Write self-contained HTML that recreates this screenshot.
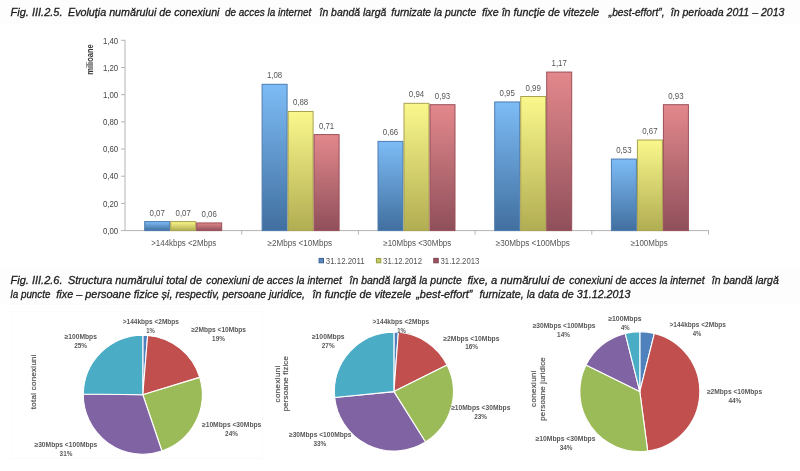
<!DOCTYPE html>
<html lang="ro">
<head>
<meta charset="utf-8">
<title>Fig. III.2.5 / III.2.6</title>
<style>
html,body{margin:0;padding:0;background:#fff;}
body{width:800px;height:471px;overflow:hidden;font-family:"Liberation Sans", sans-serif;}
svg{display:block;font-family:"Liberation Sans", sans-serif;}
</style>
</head>
<body>
<svg width="800" height="471" viewBox="0 0 800 471">
<defs>
<linearGradient id="gb" x1="0" y1="0" x2="0" y2="1"><stop offset="0" stop-color="#7dbcf6"/><stop offset="1" stop-color="#416f9f"/></linearGradient>
<linearGradient id="gy" x1="0" y1="0" x2="0" y2="1"><stop offset="0" stop-color="#faf88c"/><stop offset="1" stop-color="#b1ad52"/></linearGradient>
<linearGradient id="gr" x1="0" y1="0" x2="0" y2="1"><stop offset="0" stop-color="#e3888c"/><stop offset="1" stop-color="#8f4f5a"/></linearGradient>
<filter id="soft" x="0" y="0" width="800" height="471" filterUnits="userSpaceOnUse"><feGaussianBlur stdDeviation="0.6"/></filter>
</defs>
<rect width="800" height="471" fill="#fff"/>
<g filter="url(#soft)">
<rect x="0" y="0" width="800" height="24" fill="#fdfdfd"/>
<rect x="0" y="269" width="800" height="36" fill="#fdfdfd"/>
<text x="10.50" y="15.90" font-size="11" text-anchor="start" fill="#1c1c1c" font-style="italic" textLength="52.00" lengthAdjust="spacingAndGlyphs" stroke="#1c1c1c" stroke-width="0.3">Fig. III.2.5.</text>
<text x="68.00" y="15.90" font-size="11" text-anchor="start" fill="#1c1c1c" font-style="italic" textLength="151.50" lengthAdjust="spacingAndGlyphs" stroke="#1c1c1c" stroke-width="0.3">Evoluţia numărului de conexiuni</text>
<text x="225.00" y="15.90" font-size="11" text-anchor="start" fill="#1c1c1c" font-style="italic" textLength="86.25" lengthAdjust="spacingAndGlyphs" stroke="#1c1c1c" stroke-width="0.3">de acces la internet</text>
<text x="319.50" y="15.90" font-size="11" text-anchor="start" fill="#1c1c1c" font-style="italic" textLength="66.75" lengthAdjust="spacingAndGlyphs" stroke="#1c1c1c" stroke-width="0.3">în bandă largă</text>
<text x="391.25" y="15.90" font-size="11" text-anchor="start" fill="#1c1c1c" font-style="italic" textLength="85.00" lengthAdjust="spacingAndGlyphs" stroke="#1c1c1c" stroke-width="0.3">furnizate la puncte</text>
<text x="482.00" y="15.90" font-size="11" text-anchor="start" fill="#1c1c1c" font-style="italic" textLength="117.25" lengthAdjust="spacingAndGlyphs" stroke="#1c1c1c" stroke-width="0.3">fixe în funcţie de vitezele</text>
<text x="608.75" y="15.90" font-size="11" text-anchor="start" fill="#1c1c1c" font-style="italic" textLength="55.75" lengthAdjust="spacingAndGlyphs" stroke="#1c1c1c" stroke-width="0.3">„best-effort”,</text>
<text x="670.75" y="15.90" font-size="11" text-anchor="start" fill="#1c1c1c" font-style="italic" textLength="113.75" lengthAdjust="spacingAndGlyphs" stroke="#1c1c1c" stroke-width="0.3">în perioada 2011 – 2013</text>
<text x="10.50" y="284.20" font-size="11" text-anchor="start" fill="#1c1c1c" font-style="italic" textLength="52.00" lengthAdjust="spacingAndGlyphs" stroke="#1c1c1c" stroke-width="0.3">Fig. III.2.6.</text>
<text x="68.00" y="284.20" font-size="11" text-anchor="start" fill="#1c1c1c" font-style="italic" textLength="134.00" lengthAdjust="spacingAndGlyphs" stroke="#1c1c1c" stroke-width="0.3">Structura numărului total de</text>
<text x="206.25" y="284.20" font-size="11" text-anchor="start" fill="#1c1c1c" font-style="italic" textLength="135.50" lengthAdjust="spacingAndGlyphs" stroke="#1c1c1c" stroke-width="0.3">conexiuni de acces la internet</text>
<text x="349.50" y="284.20" font-size="11" text-anchor="start" fill="#1c1c1c" font-style="italic" textLength="112.25" lengthAdjust="spacingAndGlyphs" stroke="#1c1c1c" stroke-width="0.3">în bandă largă la puncte</text>
<text x="467.50" y="284.20" font-size="11" text-anchor="start" fill="#1c1c1c" font-style="italic" textLength="97.50" lengthAdjust="spacingAndGlyphs" stroke="#1c1c1c" stroke-width="0.3">fixe, a numărului de</text>
<text x="569.25" y="284.20" font-size="11" text-anchor="start" fill="#1c1c1c" font-style="italic" textLength="135.25" lengthAdjust="spacingAndGlyphs" stroke="#1c1c1c" stroke-width="0.3">conexiuni de acces la internet</text>
<text x="711.75" y="284.20" font-size="11" text-anchor="start" fill="#1c1c1c" font-style="italic" textLength="67.00" lengthAdjust="spacingAndGlyphs" stroke="#1c1c1c" stroke-width="0.3">în bandă largă</text>
<text x="10.50" y="298.00" font-size="11" text-anchor="start" fill="#1c1c1c" font-style="italic" textLength="40.00" lengthAdjust="spacingAndGlyphs" stroke="#1c1c1c" stroke-width="0.3">la puncte</text>
<text x="56.25" y="298.00" font-size="11" text-anchor="start" fill="#1c1c1c" font-style="italic" textLength="116.25" lengthAdjust="spacingAndGlyphs" stroke="#1c1c1c" stroke-width="0.3">fixe – persoane fizice și,</text>
<text x="175.50" y="298.00" font-size="11" text-anchor="start" fill="#1c1c1c" font-style="italic" textLength="129.50" lengthAdjust="spacingAndGlyphs" stroke="#1c1c1c" stroke-width="0.3">respectiv, persoane juridice,</text>
<text x="312.50" y="298.00" font-size="11" text-anchor="start" fill="#1c1c1c" font-style="italic" textLength="98.75" lengthAdjust="spacingAndGlyphs" stroke="#1c1c1c" stroke-width="0.3">în funcție de vitezele</text>
<text x="416.25" y="298.00" font-size="11" text-anchor="start" fill="#1c1c1c" font-style="italic" textLength="56.25" lengthAdjust="spacingAndGlyphs" stroke="#1c1c1c" stroke-width="0.3">„best-effort”</text>
<text x="479.50" y="298.00" font-size="11" text-anchor="start" fill="#1c1c1c" font-style="italic" textLength="151.00" lengthAdjust="spacingAndGlyphs" stroke="#1c1c1c" stroke-width="0.3">furnizate, la data de 31.12.2013</text>
<path d="M125.0 39.8 V230.6 H709.0" fill="none" stroke="#b4b4b4" stroke-width="1"/>
<path d="M121.0 230.60 H125.0" stroke="#b4b4b4" stroke-width="1"/>
<text x="118.20" y="233.80" font-size="8.3" text-anchor="end" fill="#444" textLength="15.30" lengthAdjust="spacingAndGlyphs" >0,00</text>
<path d="M121.0 203.41 H125.0" stroke="#b4b4b4" stroke-width="1"/>
<text x="118.20" y="206.61" font-size="8.3" text-anchor="end" fill="#444" textLength="15.30" lengthAdjust="spacingAndGlyphs" >0,20</text>
<path d="M121.0 176.23 H125.0" stroke="#b4b4b4" stroke-width="1"/>
<text x="118.20" y="179.43" font-size="8.3" text-anchor="end" fill="#444" textLength="15.30" lengthAdjust="spacingAndGlyphs" >0,40</text>
<path d="M121.0 149.04 H125.0" stroke="#b4b4b4" stroke-width="1"/>
<text x="118.20" y="152.24" font-size="8.3" text-anchor="end" fill="#444" textLength="15.30" lengthAdjust="spacingAndGlyphs" >0,60</text>
<path d="M121.0 121.86 H125.0" stroke="#b4b4b4" stroke-width="1"/>
<text x="118.20" y="125.06" font-size="8.3" text-anchor="end" fill="#444" textLength="15.30" lengthAdjust="spacingAndGlyphs" >0,80</text>
<path d="M121.0 94.67 H125.0" stroke="#b4b4b4" stroke-width="1"/>
<text x="118.20" y="97.87" font-size="8.3" text-anchor="end" fill="#444" textLength="15.30" lengthAdjust="spacingAndGlyphs" >1,00</text>
<path d="M121.0 67.49 H125.0" stroke="#b4b4b4" stroke-width="1"/>
<text x="118.20" y="70.69" font-size="8.3" text-anchor="end" fill="#444" textLength="15.30" lengthAdjust="spacingAndGlyphs" >1,20</text>
<path d="M121.0 40.30 H125.0" stroke="#b4b4b4" stroke-width="1"/>
<text x="118.20" y="43.50" font-size="8.3" text-anchor="end" fill="#444" textLength="15.30" lengthAdjust="spacingAndGlyphs" >1,40</text>
<path d="M241.70 230.6 v4" stroke="#b4b4b4" stroke-width="1"/>
<path d="M358.40 230.6 v4" stroke="#b4b4b4" stroke-width="1"/>
<path d="M475.10 230.6 v4" stroke="#b4b4b4" stroke-width="1"/>
<path d="M591.80 230.6 v4" stroke="#b4b4b4" stroke-width="1"/>
<path d="M708.50 230.6 v4" stroke="#b4b4b4" stroke-width="1"/>
<text transform="translate(93.2,59.5) rotate(-90)" font-size="8.3" font-weight="bold" text-anchor="middle" fill="#333" textLength="30.5" lengthAdjust="spacingAndGlyphs">milioane</text>
<text x="183.75" y="245.50" font-size="8.3" text-anchor="middle" fill="#555" textLength="65.00" lengthAdjust="spacingAndGlyphs" >&gt;144kbps &lt;2Mbps</text>
<rect x="144.70" y="221.58" width="25.00" height="9.02" fill="url(#gb)" stroke="#4d7cb0" stroke-width="1"/>
<text x="157.20" y="215.58" font-size="8.3" text-anchor="middle" fill="#555" textLength="15.30" lengthAdjust="spacingAndGlyphs" >0,07</text>
<rect x="170.70" y="221.58" width="25.00" height="9.02" fill="url(#gy)" stroke="#a8a24e" stroke-width="1"/>
<text x="183.20" y="215.58" font-size="8.3" text-anchor="middle" fill="#555" textLength="15.30" lengthAdjust="spacingAndGlyphs" >0,07</text>
<rect x="196.70" y="222.94" width="25.00" height="7.66" fill="url(#gr)" stroke="#9c4f58" stroke-width="1"/>
<text x="209.20" y="216.94" font-size="8.3" text-anchor="middle" fill="#555" textLength="15.30" lengthAdjust="spacingAndGlyphs" >0,06</text>
<text x="299.75" y="245.50" font-size="8.3" text-anchor="middle" fill="#555" textLength="64.50" lengthAdjust="spacingAndGlyphs" >≥2Mbps &lt;10Mbps</text>
<rect x="262.10" y="84.30" width="25.00" height="146.30" fill="url(#gb)" stroke="#4d7cb0" stroke-width="1"/>
<text x="274.60" y="78.30" font-size="8.3" text-anchor="middle" fill="#555" textLength="15.30" lengthAdjust="spacingAndGlyphs" >1,08</text>
<rect x="288.10" y="111.48" width="25.00" height="119.12" fill="url(#gy)" stroke="#a8a24e" stroke-width="1"/>
<text x="300.60" y="105.48" font-size="8.3" text-anchor="middle" fill="#555" textLength="15.30" lengthAdjust="spacingAndGlyphs" >0,88</text>
<rect x="314.10" y="134.59" width="25.00" height="96.01" fill="url(#gr)" stroke="#9c4f58" stroke-width="1"/>
<text x="326.60" y="128.59" font-size="8.3" text-anchor="middle" fill="#555" textLength="15.30" lengthAdjust="spacingAndGlyphs" >0,71</text>
<text x="417.25" y="245.50" font-size="8.3" text-anchor="middle" fill="#555" textLength="68.00" lengthAdjust="spacingAndGlyphs" >≥10Mbps &lt;30Mbps</text>
<rect x="378.00" y="141.39" width="25.00" height="89.21" fill="url(#gb)" stroke="#4d7cb0" stroke-width="1"/>
<text x="390.50" y="135.39" font-size="8.3" text-anchor="middle" fill="#555" textLength="15.30" lengthAdjust="spacingAndGlyphs" >0,66</text>
<rect x="404.00" y="103.33" width="25.00" height="127.27" fill="url(#gy)" stroke="#a8a24e" stroke-width="1"/>
<text x="416.50" y="97.33" font-size="8.3" text-anchor="middle" fill="#555" textLength="15.30" lengthAdjust="spacingAndGlyphs" >0,94</text>
<rect x="430.00" y="104.69" width="25.00" height="125.91" fill="url(#gr)" stroke="#9c4f58" stroke-width="1"/>
<text x="442.50" y="98.69" font-size="8.3" text-anchor="middle" fill="#555" textLength="15.30" lengthAdjust="spacingAndGlyphs" >0,93</text>
<text x="532.80" y="245.50" font-size="8.3" text-anchor="middle" fill="#555" textLength="74.00" lengthAdjust="spacingAndGlyphs" >≥30Mbps &lt;100Mbps</text>
<rect x="494.70" y="101.97" width="25.00" height="128.63" fill="url(#gb)" stroke="#4d7cb0" stroke-width="1"/>
<text x="507.20" y="95.97" font-size="8.3" text-anchor="middle" fill="#555" textLength="15.30" lengthAdjust="spacingAndGlyphs" >0,95</text>
<rect x="520.70" y="96.53" width="25.00" height="134.07" fill="url(#gy)" stroke="#a8a24e" stroke-width="1"/>
<text x="533.20" y="90.53" font-size="8.3" text-anchor="middle" fill="#555" textLength="15.30" lengthAdjust="spacingAndGlyphs" >0,99</text>
<rect x="546.70" y="72.06" width="25.00" height="158.54" fill="url(#gr)" stroke="#9c4f58" stroke-width="1"/>
<text x="559.20" y="66.06" font-size="8.3" text-anchor="middle" fill="#555" textLength="15.30" lengthAdjust="spacingAndGlyphs" >1,17</text>
<text x="649.20" y="245.50" font-size="8.3" text-anchor="middle" fill="#555" textLength="37.00" lengthAdjust="spacingAndGlyphs" >≥100Mbps</text>
<rect x="611.40" y="159.06" width="25.00" height="71.54" fill="url(#gb)" stroke="#4d7cb0" stroke-width="1"/>
<text x="623.90" y="153.06" font-size="8.3" text-anchor="middle" fill="#555" textLength="15.30" lengthAdjust="spacingAndGlyphs" >0,53</text>
<rect x="637.40" y="140.03" width="25.00" height="90.57" fill="url(#gy)" stroke="#a8a24e" stroke-width="1"/>
<text x="649.90" y="134.03" font-size="8.3" text-anchor="middle" fill="#555" textLength="15.30" lengthAdjust="spacingAndGlyphs" >0,67</text>
<rect x="663.40" y="104.69" width="25.00" height="125.91" fill="url(#gr)" stroke="#9c4f58" stroke-width="1"/>
<text x="675.90" y="98.69" font-size="8.3" text-anchor="middle" fill="#555" textLength="15.30" lengthAdjust="spacingAndGlyphs" >0,93</text>
<rect x="319.1" y="258.4" width="4.4" height="4.4" fill="#5a88bf" stroke="#3c618f" stroke-width="1"/>
<text x="325.80" y="263.60" font-size="8.3" text-anchor="start" fill="#555" textLength="38.90" lengthAdjust="spacingAndGlyphs" >31.12.2011</text>
<rect x="376.4" y="258.4" width="4.4" height="4.4" fill="#c3c860" stroke="#98a044" stroke-width="1"/>
<text x="383.10" y="263.60" font-size="8.3" text-anchor="start" fill="#555" textLength="38.90" lengthAdjust="spacingAndGlyphs" >31.12.2012</text>
<rect x="433.8" y="258.4" width="4.4" height="4.4" fill="#a3555f" stroke="#74404a" stroke-width="1"/>
<text x="440.50" y="263.60" font-size="8.3" text-anchor="start" fill="#555" textLength="38.90" lengthAdjust="spacingAndGlyphs" >31.12.2013</text>
<rect x="11.5" y="311.5" width="251.0" height="147" fill="none" stroke="#fbfbfb" stroke-width="1"/>
<path d="M142.80 394.70 L142.80 335.20 A59.5 59.5 0 0 1 147.65 335.40 Z" fill="#4f81bd" stroke="#fff" stroke-width="1.1" stroke-linejoin="round"/>
<path d="M142.80 394.70 L147.65 335.40 A59.5 59.5 0 0 1 199.72 377.38 Z" fill="#c0504d" stroke="#fff" stroke-width="1.1" stroke-linejoin="round"/>
<path d="M142.80 394.70 L199.72 377.38 A59.5 59.5 0 0 1 161.90 451.05 Z" fill="#9bbb59" stroke="#fff" stroke-width="1.1" stroke-linejoin="round"/>
<path d="M142.80 394.70 L161.90 451.05 A59.5 59.5 0 0 1 83.30 393.95 Z" fill="#8064a2" stroke="#fff" stroke-width="1.1" stroke-linejoin="round"/>
<path d="M142.80 394.70 L83.30 393.95 A59.5 59.5 0 0 1 142.80 335.20 Z" fill="#4bacc6" stroke="#fff" stroke-width="1.1" stroke-linejoin="round"/>
<text x="150.85" y="324.20" font-size="6.8" text-anchor="middle" fill="#585858" font-weight="bold" textLength="56.30" lengthAdjust="spacingAndGlyphs" >&gt;144kbps &lt;2Mbps</text>
<text x="150.60" y="333.10" font-size="6.8" text-anchor="middle" fill="#585858" font-weight="bold" textLength="8.60" lengthAdjust="spacingAndGlyphs" >1%</text>
<text x="218.60" y="332.20" font-size="6.8" text-anchor="middle" fill="#585858" font-weight="bold" textLength="54.80" lengthAdjust="spacingAndGlyphs" >≥2Mbps &lt;10Mbps</text>
<text x="218.50" y="341.10" font-size="6.8" text-anchor="middle" fill="#585858" font-weight="bold" textLength="12.80" lengthAdjust="spacingAndGlyphs" >19%</text>
<text x="80.75" y="338.70" font-size="6.8" text-anchor="middle" fill="#585858" font-weight="bold" textLength="32.30" lengthAdjust="spacingAndGlyphs" >≥100Mbps</text>
<text x="80.60" y="347.60" font-size="6.8" text-anchor="middle" fill="#585858" font-weight="bold" textLength="12.80" lengthAdjust="spacingAndGlyphs" >25%</text>
<text x="231.65" y="426.90" font-size="6.8" text-anchor="middle" fill="#585858" font-weight="bold" textLength="59.30" lengthAdjust="spacingAndGlyphs" >≥10Mbps &lt;30Mbps</text>
<text x="231.50" y="435.80" font-size="6.8" text-anchor="middle" fill="#585858" font-weight="bold" textLength="12.80" lengthAdjust="spacingAndGlyphs" >24%</text>
<text x="65.90" y="446.80" font-size="6.8" text-anchor="middle" fill="#585858" font-weight="bold" textLength="62.80" lengthAdjust="spacingAndGlyphs" >≥30Mbps &lt;100Mbps</text>
<text x="66.00" y="455.70" font-size="6.8" text-anchor="middle" fill="#585858" font-weight="bold" textLength="12.80" lengthAdjust="spacingAndGlyphs" >31%</text>
<path d="M393.90 391.60 L393.90 332.10 A59.5 59.5 0 0 1 398.38 332.27 Z" fill="#4f81bd" stroke="#fff" stroke-width="1.1" stroke-linejoin="round"/>
<path d="M393.90 391.60 L398.38 332.27 A59.5 59.5 0 0 1 447.08 364.92 Z" fill="#c0504d" stroke="#fff" stroke-width="1.1" stroke-linejoin="round"/>
<path d="M393.90 391.60 L447.08 364.92 A59.5 59.5 0 0 1 425.47 442.04 Z" fill="#9bbb59" stroke="#fff" stroke-width="1.1" stroke-linejoin="round"/>
<path d="M393.90 391.60 L425.47 442.04 A59.5 59.5 0 0 1 334.70 397.57 Z" fill="#8064a2" stroke="#fff" stroke-width="1.1" stroke-linejoin="round"/>
<path d="M393.90 391.60 L334.70 397.57 A59.5 59.5 0 0 1 393.90 332.10 Z" fill="#4bacc6" stroke="#fff" stroke-width="1.1" stroke-linejoin="round"/>
<text x="400.80" y="324.20" font-size="6.8" text-anchor="middle" fill="#585858" font-weight="bold" textLength="56.60" lengthAdjust="spacingAndGlyphs" >&gt;144kbps &lt;2Mbps</text>
<text x="401.50" y="333.10" font-size="6.8" text-anchor="middle" fill="#585858" font-weight="bold" textLength="8.60" lengthAdjust="spacingAndGlyphs" >1%</text>
<text x="471.40" y="340.50" font-size="6.8" text-anchor="middle" fill="#585858" font-weight="bold" textLength="56.20" lengthAdjust="spacingAndGlyphs" >≥2Mbps &lt;10Mbps</text>
<text x="471.60" y="349.40" font-size="6.8" text-anchor="middle" fill="#585858" font-weight="bold" textLength="12.80" lengthAdjust="spacingAndGlyphs" >16%</text>
<text x="328.25" y="338.70" font-size="6.8" text-anchor="middle" fill="#585858" font-weight="bold" textLength="32.70" lengthAdjust="spacingAndGlyphs" >≥100Mbps</text>
<text x="328.20" y="347.60" font-size="6.8" text-anchor="middle" fill="#585858" font-weight="bold" textLength="12.80" lengthAdjust="spacingAndGlyphs" >27%</text>
<text x="480.80" y="410.20" font-size="6.8" text-anchor="middle" fill="#585858" font-weight="bold" textLength="59.20" lengthAdjust="spacingAndGlyphs" >≥10Mbps &lt;30Mbps</text>
<text x="480.60" y="419.10" font-size="6.8" text-anchor="middle" fill="#585858" font-weight="bold" textLength="12.80" lengthAdjust="spacingAndGlyphs" >23%</text>
<text x="320.25" y="436.70" font-size="6.8" text-anchor="middle" fill="#585858" font-weight="bold" textLength="62.50" lengthAdjust="spacingAndGlyphs" >≥30Mbps &lt;100Mbps</text>
<text x="319.90" y="445.60" font-size="6.8" text-anchor="middle" fill="#585858" font-weight="bold" textLength="12.80" lengthAdjust="spacingAndGlyphs" >33%</text>
<path d="M639.80 391.60 L639.80 331.60 A60 60 0 0 1 654.36 333.39 Z" fill="#4f81bd" stroke="#fff" stroke-width="1.1" stroke-linejoin="round"/>
<path d="M639.80 391.60 L654.36 333.39 A60 60 0 0 1 647.69 451.08 Z" fill="#c0504d" stroke="#fff" stroke-width="1.1" stroke-linejoin="round"/>
<path d="M639.80 391.60 L647.69 451.08 A60 60 0 0 1 586.00 365.03 Z" fill="#9bbb59" stroke="#fff" stroke-width="1.1" stroke-linejoin="round"/>
<path d="M639.80 391.60 L586.00 365.03 A60 60 0 0 1 625.24 333.39 Z" fill="#8064a2" stroke="#fff" stroke-width="1.1" stroke-linejoin="round"/>
<path d="M639.80 391.60 L625.24 333.39 A60 60 0 0 1 639.80 331.60 Z" fill="#4bacc6" stroke="#fff" stroke-width="1.1" stroke-linejoin="round"/>
<text x="624.90" y="321.30" font-size="6.8" text-anchor="middle" fill="#585858" font-weight="bold" textLength="33.40" lengthAdjust="spacingAndGlyphs" >≥100Mbps</text>
<text x="625.20" y="330.20" font-size="6.8" text-anchor="middle" fill="#585858" font-weight="bold" textLength="8.60" lengthAdjust="spacingAndGlyphs" >4%</text>
<text x="697.65" y="327.10" font-size="6.8" text-anchor="middle" fill="#585858" font-weight="bold" textLength="56.30" lengthAdjust="spacingAndGlyphs" >&gt;144kbps &lt;2Mbps</text>
<text x="697.10" y="336.00" font-size="6.8" text-anchor="middle" fill="#585858" font-weight="bold" textLength="8.60" lengthAdjust="spacingAndGlyphs" >4%</text>
<text x="564.10" y="327.80" font-size="6.8" text-anchor="middle" fill="#585858" font-weight="bold" textLength="62.80" lengthAdjust="spacingAndGlyphs" >≥30Mbps &lt;100Mbps</text>
<text x="563.50" y="336.70" font-size="6.8" text-anchor="middle" fill="#585858" font-weight="bold" textLength="12.80" lengthAdjust="spacingAndGlyphs" >14%</text>
<text x="734.50" y="393.80" font-size="6.8" text-anchor="middle" fill="#585858" font-weight="bold" textLength="55.20" lengthAdjust="spacingAndGlyphs" >≥2Mbps &lt;10Mbps</text>
<text x="734.80" y="402.70" font-size="6.8" text-anchor="middle" fill="#585858" font-weight="bold" textLength="12.80" lengthAdjust="spacingAndGlyphs" >44%</text>
<text x="565.55" y="441.40" font-size="6.8" text-anchor="middle" fill="#585858" font-weight="bold" textLength="59.90" lengthAdjust="spacingAndGlyphs" >≥10Mbps &lt;30Mbps</text>
<text x="566.10" y="450.30" font-size="6.8" text-anchor="middle" fill="#585858" font-weight="bold" textLength="12.80" lengthAdjust="spacingAndGlyphs" >34%</text>
<text transform="translate(35.5,381.8) rotate(-90)" font-size="8" text-anchor="middle" fill="#555" stroke="#555" stroke-width="0.2" textLength="54.8" lengthAdjust="spacing">total conexiuni</text>
<text transform="translate(280.0,384.0) rotate(-90)" font-size="8" text-anchor="middle" fill="#555" stroke="#555" stroke-width="0.2" textLength="37.0" lengthAdjust="spacing">conexiuni</text>
<text transform="translate(288.2,383.7) rotate(-90)" font-size="8" text-anchor="middle" fill="#555" stroke="#555" stroke-width="0.2" textLength="55.2" lengthAdjust="spacing">persoane fizice</text>
<text transform="translate(535.8,388.7) rotate(-90)" font-size="8" text-anchor="middle" fill="#555" stroke="#555" stroke-width="0.2" textLength="36.5" lengthAdjust="spacing">conexiuni</text>
<text transform="translate(545.0,389.0) rotate(-90)" font-size="8" text-anchor="middle" fill="#555" stroke="#555" stroke-width="0.2" textLength="63.5" lengthAdjust="spacing">persoane juridice</text>
</g>
</svg>
</body>
</html>
